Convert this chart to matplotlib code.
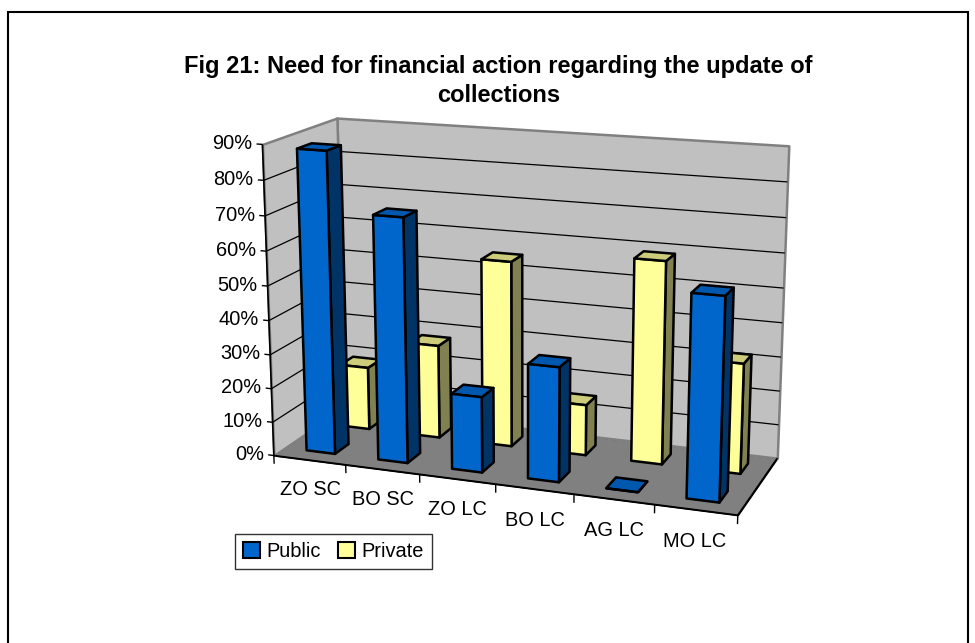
import numpy as np
import matplotlib.pyplot as plt
from matplotlib.patches import Patch, Rectangle
from mpl_toolkits.mplot3d import proj3d
from mpl_toolkits.mplot3d.art3d import Poly3DCollection, Line3DCollection

plt.rcParams['font.family'] = ['Liberation Sans', 'DejaVu Sans']

categories = ["ZO SC", "BO SC", "ZO LC", "BO LC", "AG LC", "MO LC"]
series_names = ["Public", "Private"]
public = [88, 71, 22, 33, 0, 57]
private = [19, 28, 55, 15, 59, 32]
pct_ticks = list(range(0, 100, 10))

FRONT = {"Public": "#0066CC", "Private": "#FFFF99"}
TOP = {"Public": "#0057AE", "Private": "#CCCC7A"}
SIDE = {"Public": "#003366", "Private": "#808050"}

N = len(categories)
ROWS = len(series_names)
ZMAX = pct_ticks[-1]
ROW_DEPTH = 1.04      # depth of one series row, in category widths
HEIGHT = 3.98         # wall height, in category widths
BAR_W = 0.4           # bar width, in category widths
BAR_D = BAR_W / ROW_DEPTH
LABEL_SIZE = 14.4


def add_poly(ax, pts, fc, ec, lw, z):
    pc = Poly3DCollection([pts], facecolors=fc, edgecolors=ec, linewidths=lw)
    pc.set_zorder(z)
    ax.add_collection3d(pc)


def add_lines(ax, segs, color, lw, z):
    lc = Line3DCollection(segs, colors=color, linewidths=lw)
    lc.set_zorder(z)
    ax.add_collection3d(lc)


def add_bar(ax, i, row, value, name, z):
    x0 = i + 0.5 - BAR_W / 2
    x1 = x0 + BAR_W
    y0 = row + 0.5 - BAR_D / 2
    y1 = y0 + BAR_D
    faces = [
        [(x0, y0, 0), (x1, y0, 0), (x1, y0, value), (x0, y0, value)],
        [(x1, y0, 0), (x1, y1, 0), (x1, y1, value), (x1, y0, value)],
        [(x0, y0, value), (x1, y0, value), (x1, y1, value), (x0, y1, value)],
    ]
    pc = Poly3DCollection(faces, facecolors=[FRONT[name], SIDE[name], TOP[name]],
                          edgecolors="black", linewidths=1.8)
    pc.set_zorder(z)
    ax.add_collection3d(pc)


def add_label(ax, M, x, y, z, s, **kw):
    # place a flat label at the projected position of a 3D point
    px, py, _ = proj3d.proj_transform(x, y, z, M)
    ax.annotate(s, (px, py), xycoords="data", annotation_clip=False,
                fontsize=LABEL_SIZE, zorder=31, **kw)


fig = plt.figure(figsize=(9.75, 6.43), dpi=100)
cx, cy, side = 517.5, 312.0, 560
ax = fig.add_axes([(cx - side / 2) / 975, 1 - (cy + side / 2) / 643, side / 975, side / 643],
                  projection="3d", computed_zorder=False)
ax.set_proj_type("persp", focal_length=0.62)
ax.view_init(elev=15, azim=-70)
ax.set_box_aspect((N, ROWS * ROW_DEPTH, HEIGHT), zoom=1.053)
ax.set_xlim(0, N)
ax.set_ylim(0, ROWS)
ax.set_zlim(0, ZMAX)
ax.set_xticks([])
ax.set_yticks([])
ax.set_zticks([])
ax.set_axis_off()
M = ax.get_proj()

# floor and walls
add_poly(ax, [(0, 0, 0), (N, 0, 0), (N, ROWS, 0), (0, ROWS, 0)], "#808080", "black", 1.0, 1)
add_poly(ax, [(0, ROWS, 0), (N, ROWS, 0), (N, ROWS, ZMAX), (0, ROWS, ZMAX)], "#C0C0C0", "#808080", 1.8, 2)
add_poly(ax, [(0, 0, 0), (0, ROWS, 0), (0, ROWS, ZMAX), (0, 0, ZMAX)], "#C0C0C0", "#808080", 1.8, 2)

# gridlines across the left and back walls
grid = []
for v in pct_ticks[1:-1]:
    grid.append([(0, 0, v), (0, ROWS, v)])
    grid.append([(0, ROWS, v), (N, ROWS, v)])
add_lines(ax, grid, "black", 0.9, 3)

# bars: back row first, then front row, left to right
for i, v in enumerate(private):
    add_bar(ax, i, 1, v, "Private", 10 + i)
for i, v in enumerate(public):
    add_bar(ax, i, 0, v, "Public", 20 + i)

# value axis
add_lines(ax, [[(0, 0, 0), (0, 0, ZMAX)]], "black", 1.2, 30)
add_lines(ax, [[(0, 0, v), (-0.08, 0, v)] for v in pct_ticks], "black", 1.0, 30)
for v in pct_ticks:
    add_label(ax, M, -0.14, 0, v, f"{v}%", ha="right", va="center")

# category axis
add_lines(ax, [[(0, 0, 0), (N, 0, 0)], [(N, 0, 0), (N, ROWS, 0)]], "black", 1.2, 30)
add_lines(ax, [[(k, 0, 0), (k, 0, -2.5)] for k in range(N + 1)], "black", 1.0, 30)
for i, c in enumerate(categories):
    add_label(ax, M, i + 0.5, 0, -9, c, ha="center", va="center")

fig.text(0.511, 1 - 81 / 643,
         "Fig 21: Need for financial action regarding the update of\ncollections",
         ha="center", va="center", fontsize=17, fontweight="bold", linespacing=1.3)

handles = [Patch(facecolor=FRONT[s], edgecolor="black", linewidth=1.5) for s in series_names]
leg = fig.legend(handles, series_names, loc="upper left", bbox_to_anchor=(235 / 975, 1 - 534 / 643),
                 ncol=2, fontsize=LABEL_SIZE, frameon=True, fancybox=False, borderaxespad=0,
                 handlelength=0.85, handleheight=0.85, handletextpad=0.3, columnspacing=0.9,
                 borderpad=0.4)
leg.get_frame().set_edgecolor("black")
leg.get_frame().set_linewidth(1.0)

fig.patches.append(Rectangle((8 / 975, -0.05), 960 / 975, 1.05 - 12 / 643, transform=fig.transFigure,
                             fill=False, edgecolor="black", linewidth=1.5))

fig.savefig("out.png", dpi=100)
